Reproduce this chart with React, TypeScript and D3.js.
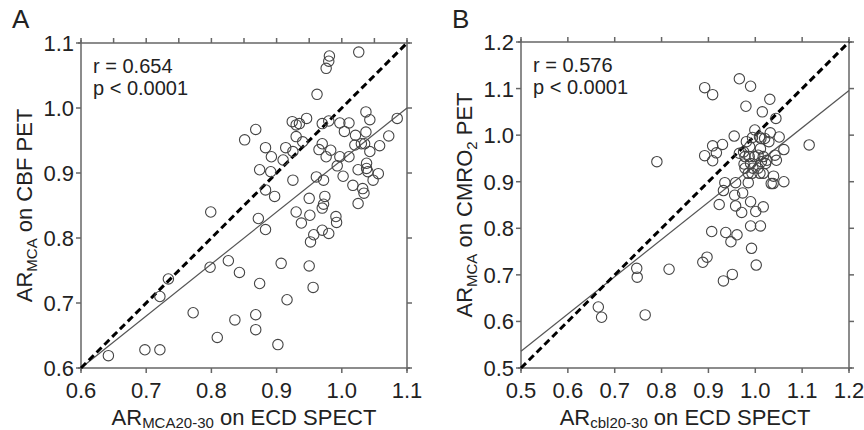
import React from "react";
import * as d3 from "d3";

// panel A: AR_MCA20-30 on ECD SPECT vs AR_MCA on CBF PET
const ticksA = [0.6, 0.7, 0.8, 0.9, 1.0, 1.1];
const minorTicksA = [0.65, 0.75, 0.85, 0.95, 1.05];
const spectA = [
  0.642, 0.698, 0.721, 0.721, 0.734, 0.772, 0.799, 0.798, 0.809, 0.826, 0.836, 0.843,
  0.851, 0.868, 0.868, 0.868, 0.874, 0.872, 0.874, 0.883, 0.883, 0.883, 0.892, 0.891,
  0.897, 0.902, 0.907, 0.91, 0.914, 0.916, 0.925, 0.925, 0.924, 0.93, 0.93, 0.93,
  0.935, 0.938, 0.94, 0.946, 0.95, 0.95, 0.951, 0.952, 0.956, 0.957, 0.961, 0.962,
  0.965, 0.97, 0.97, 0.97, 0.972, 0.974, 0.972, 0.97, 0.976, 0.976, 0.98, 0.981,
  0.98, 0.98, 0.983, 0.991, 0.992, 0.993, 0.997, 0.997, 1.002, 1.004, 1.011, 1.011,
  1.017, 1.02, 1.021, 1.025, 1.025, 1.026, 1.03, 1.032, 1.034, 1.037, 1.037, 1.038,
  1.038, 1.035, 1.043, 1.043, 1.04, 1.048, 1.056, 1.058, 1.072, 1.085,
];
const petA = [
  0.619, 0.628, 0.628, 0.71, 0.737, 0.685, 0.84, 0.755, 0.647, 0.765, 0.674, 0.747,
  0.951, 0.967, 0.682, 0.659, 0.73, 0.83, 0.905, 0.813, 0.874, 0.939, 0.925, 0.902,
  0.864, 0.636, 0.761, 0.92, 0.939, 0.705, 0.889, 0.933, 0.979, 0.974, 0.956, 0.84,
  0.976, 0.823, 0.948, 0.984, 0.757, 0.861, 0.835, 0.794, 0.724, 0.805, 0.894, 1.021,
  0.936, 0.976, 0.846, 0.945, 0.889, 0.864, 0.852, 0.812, 0.925, 1.061, 1.072, 1.08,
  0.98, 0.807, 0.935, 0.833, 0.824, 0.911, 0.925, 0.977, 0.895, 0.964, 0.925, 0.977,
  0.881, 0.943, 0.958, 0.905, 0.853, 1.086, 0.945, 0.876, 0.869, 0.994, 0.963, 0.915,
  0.907, 0.945, 0.982, 0.933, 0.902, 0.889, 0.899, 0.942, 0.957, 0.984,
];
const fitA = [
  { x: 0.6, y: 0.6 },
  { x: 1.1, y: 1.0 },
];
const statsA = ["r = 0.654", "p < 0.0001"];

// panel B: AR_cbl20-30 on ECD SPECT vs AR_MCA on CMRO2 PET
const ticksB = [0.5, 0.6, 0.7, 0.8, 0.9, 1.0, 1.1, 1.2];
const spectB = [
  0.665, 0.672, 0.747, 0.748, 0.765, 0.79, 0.816, 0.888, 0.897, 0.892, 0.909, 0.892,
  0.909, 0.909, 0.917, 0.93, 0.907, 0.923, 0.932, 0.935, 0.932, 0.937, 0.948, 0.951,
  0.955, 0.958, 0.956, 0.958, 0.961, 0.966, 0.966, 0.971, 0.973, 0.976, 0.98, 0.985,
  0.981, 0.985, 0.988, 0.99, 0.99, 0.99, 0.99, 0.992, 0.994, 0.995, 0.999, 1.001,
  1.002, 1.006, 1.01, 1.011, 1.012, 1.013, 1.015, 1.017, 1.017, 1.02, 1.022, 1.029,
  1.031, 1.032, 1.034, 1.039, 1.038, 1.042, 1.044, 1.045, 1.051, 1.061, 1.061, 1.115,
  0.978, 0.999, 0.978, 1.017, 0.987, 1.006, 0.975, 1.011, 0.993, 1.025, 1.009,
];
const petB = [
  0.631, 0.609, 0.714, 0.695, 0.614, 0.943, 0.712, 0.727, 0.738, 1.102, 1.087, 0.956,
  0.977, 0.945, 0.962, 0.98, 0.793, 0.851, 0.881, 0.898, 0.687, 0.791, 0.771, 0.701,
  0.998, 0.898, 0.871, 0.848, 0.786, 1.121, 0.961, 0.834, 0.876, 0.938, 1.062, 0.918,
  0.986, 0.898, 0.975, 0.939, 1.105, 0.857, 0.805, 0.757, 0.995, 0.929, 1.011, 0.836,
  0.721, 0.957, 0.918, 0.805, 0.993, 0.943, 1.05, 0.846, 0.918, 0.993, 0.939, 0.986,
  1.077, 1.005, 0.896, 0.912, 0.896, 0.957, 1.036, 0.946, 0.996, 0.9, 0.969, 0.979,
  0.954, 0.954, 0.929, 0.954, 0.954, 0.929, 0.964, 0.971, 0.918, 0.946, 0.996,
];
const fitB = [
  { x: 0.5, y: 0.536 },
  { x: 1.2, y: 1.096 },
];
const statsB = ["r = 0.576", "p < 0.0001"];

const FONT = "'Liberation Sans', Arial, Helvetica, sans-serif";
const INK = "#222";
const AXIS = "#666";

type Part = { t: string; sub?: boolean };

const Label = ({ parts, subDy = 5 }: { parts: Part[]; subDy?: number }) => (
  <>
    {parts.map((p, i) => {
      const prevSub = i > 0 && parts[i - 1].sub;
      const dy = p.sub ? subDy : prevSub ? -subDy : 0;
      return (
        <tspan key={i} dy={dy} fontSize={p.sub ? 15 : 22}>
          {p.t}
        </tspan>
      );
    })}
  </>
);

type PanelProps = {
  letter: string;
  box: { left: number; right: number; top: number; bottom: number };
  domain: [number, number];
  ticks: number[];
  minor?: number[];
  xs: number[];
  ys: number[];
  fit: { x: number; y: number }[];
  stats: string[];
  xLabel: Part[];
  yLabel: Part[];
  yLabelX: number;
};

const Panel = ({ letter, box, domain, ticks, minor = [], xs, ys, fit, stats, xLabel, yLabel, yLabelX }: PanelProps) => {
  const x = d3.scaleLinear().domain(domain).range([box.left, box.right]);
  const y = d3.scaleLinear().domain(domain).range([box.bottom, box.top]);
  const fmt = d3.format(".1f");
  const line = d3
    .line<{ x: number; y: number }>()
    .x((d) => x(d.x))
    .y((d) => y(d.y));
  const ident = domain.map((v) => ({ x: v, y: v }));
  const ext = 3;
  const tk = 5;
  const cy = (box.top + box.bottom) / 2;
  const cx = (box.left + box.right) / 2;

  return (
    <g>
      <text x={box.left - 69} y={28} fontSize={26} fill={INK}>
        {letter}
      </text>

      {/* frame */}
      <g stroke={AXIS} strokeWidth={1.5}>
        <line x1={box.left - ext} x2={box.right + ext} y1={box.bottom} y2={box.bottom} />
        <line x1={box.left - ext} x2={box.right + ext} y1={box.top} y2={box.top} />
        <line x1={box.left} x2={box.left} y1={box.top - ext} y2={box.bottom + ext} />
        <line x1={box.right} x2={box.right} y1={box.top - ext} y2={box.bottom + ext} />
        {ticks.map((t) => (
          <g key={"t" + t}>
            <line x1={x(t)} x2={x(t)} y1={box.bottom} y2={box.bottom + tk} />
            <line x1={x(t)} x2={x(t)} y1={box.top} y2={box.top - tk} />
            <line x1={box.left} x2={box.left - tk} y1={y(t)} y2={y(t)} />
            <line x1={box.right} x2={box.right + tk} y1={y(t)} y2={y(t)} />
          </g>
        ))}
        {minor.map((t) => (
          <line key={"m" + t} x1={x(t)} x2={x(t)} y1={box.top} y2={box.top - tk} />
        ))}
      </g>

      <g fontFamily={FONT} fontSize={22} fill={INK}>
        {ticks.map((t) => (
          <text key={"xl" + t} x={x(t)} y={box.bottom + 30} textAnchor="middle">
            {fmt(t)}
          </text>
        ))}
        {ticks.map((t) => (
          <text key={"yl" + t} x={box.left - 7} y={y(t) + 8} textAnchor="end">
            {fmt(t)}
          </text>
        ))}
      </g>

      {/* regression and identity lines */}
      <path d={line(fit) ?? ""} fill="none" stroke="#555" strokeWidth={1.2} />
      <path d={line(ident) ?? ""} fill="none" stroke="#000" strokeWidth={3} strokeDasharray="7,4" />

      {xs.map((v, i) => (
        <circle key={i} cx={x(v)} cy={y(ys[i])} r={5.2} fill="none" stroke="#444" strokeWidth={1.1} />
      ))}

      <g fontFamily={FONT} fontSize={20} fill={INK}>
        {stats.map((s, i) => (
          <text key={s} x={box.left + 12} y={box.top + 30 + i * 22}>
            {s}
          </text>
        ))}
      </g>

      <text x={cx} y={425} textAnchor="middle" fontFamily={FONT} fill={INK}>
        <Label parts={xLabel} subDy={3} />
      </text>
      <text
        transform={`translate(${yLabelX},${cy}) rotate(-90)`}
        textAnchor="middle"
        fontFamily={FONT}
        fill={INK}
      >
        <Label parts={yLabel} />
      </text>
    </g>
  );
};

export default function App() {
  return (
    <svg
      width={864}
      height={430}
      style={{ position: "absolute", left: 0, top: 0, background: "#fff" }}
      fontFamily={FONT}
    >
      <rect width={864} height={430} fill="#fff" />
      <Panel
        letter="A"
        box={{ left: 81, right: 407, top: 43, bottom: 368 }}
        domain={[0.6, 1.1]}
        ticks={ticksA}
        minor={minorTicksA}
        xs={spectA}
        ys={petA}
        fit={fitA}
        stats={statsA}
        xLabel={[{ t: "AR" }, { t: "MCA20-30", sub: true }, { t: " on ECD SPECT" }]}
        yLabel={[{ t: "AR" }, { t: "MCA", sub: true }, { t: " on CBF PET" }]}
        yLabelX={32}
      />
      <Panel
        letter="B"
        box={{ left: 521, right: 849, top: 42, bottom: 368 }}
        domain={[0.5, 1.2]}
        ticks={ticksB}
        xs={spectB}
        ys={petB}
        fit={fitB}
        stats={statsB}
        xLabel={[{ t: "AR" }, { t: "cbl20-30", sub: true }, { t: " on ECD SPECT" }]}
        yLabel={[
          { t: "AR" },
          { t: "MCA", sub: true },
          { t: " on CMRO" },
          { t: "2", sub: true },
          { t: " PET" },
        ]}
        yLabelX={472}
      />
    </svg>
  );
}
